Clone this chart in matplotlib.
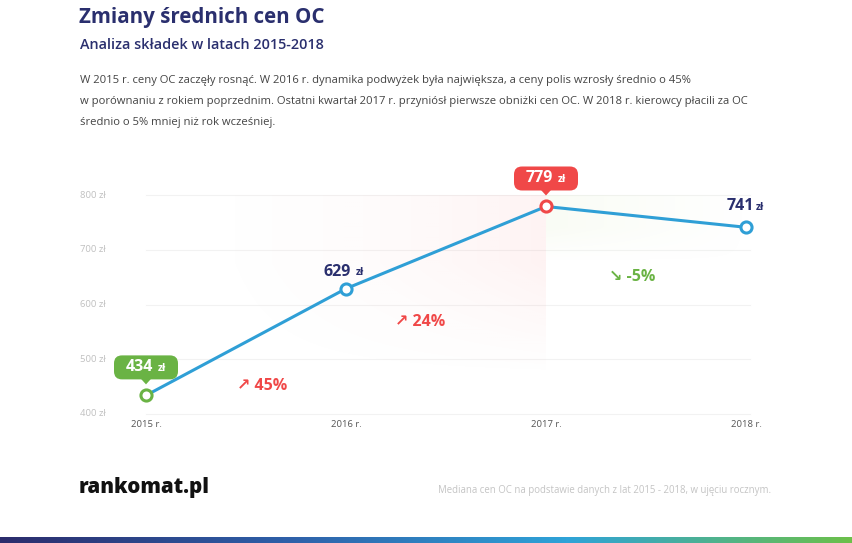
import numpy as np
import matplotlib.pyplot as plt
from matplotlib.colors import LinearSegmentedColormap
from matplotlib.patches import FancyBboxPatch, Polygon
from matplotlib.transforms import ScaledTranslation

# Data
years = ['2015 r.', '2016 r.', '2017 r.', '2018 r.']
prices = [434, 629, 779, 741]
changes = ['45%', '24%', '-5%']
yticks = [400, 500, 600, 700, 800]

NAVY = '#2a2f6e'
BLUE = '#2f9fd6'
RED = '#f04848'
GREEN = '#6ab344'
FONT = ['Open Sans', 'DejaVu Sans']

W, H = 852, 543
fig = plt.figure(figsize=(W / 100, H / 100), dpi=100)
fig.patch.set_facecolor('white')

def px(x, y):
    return x / W, 1 - y / H

# chart axes: x 146..746 px, y 195..414 px
ax = fig.add_axes([146 / W, 1 - 414 / H, 600 / W, 219 / H])
for s in ax.spines.values():
    s.set_visible(False)
ax.set_xticks([])
ax.set_yticks([])

x = np.arange(len(prices))

# grid lines
for v in yticks:
    ax.plot([0, 3.02], [v, v], color='#f2f2f2', lw=0.8, zorder=0, clip_on=False)
    fig.text(80 / W, 1 - (414 - (v - 400) * 219 / 400) / H, f'{v} zł', fontsize=6.8,
             color='#c0c0c0', va='center', ha='left', family=FONT)

for i, lab in enumerate(years):
    ax.text(x[i], 380, lab, fontsize=6.8, color='#555555', ha='center', va='center',
            family=FONT, clip_on=False)

# shaded areas
gx = np.linspace(0, 1, 200)
gy = np.linspace(0, 1, 100)
GX, GY = np.meshgrid(gx, gy)
pink = np.zeros((100, 200, 4))
pink[..., :3] = (0.98, 0.4, 0.4)
pink[..., 3] = 0.08 * GX ** 2 * np.clip(GY * 1.6, 0, 1)
ax.imshow(pink, extent=[0, 2, 470, 800], origin='lower', aspect='auto', zorder=1,
          interpolation='bilinear')
green = np.zeros((100, 200, 4))
green[..., :3] = (0.9, 0.95, 0.82)
green[..., 3] = 0.22 * (1 - GX) * np.clip(GY * 2, 0, 1)
ax.imshow(green, extent=[2, 3, 680, 800], origin='lower', aspect='auto', zorder=1,
          interpolation='bilinear')
ax.set_xlim(0, 3)
ax.set_ylim(400, 800)

# line
ax.plot(x, prices, color=BLUE, lw=2.2, zorder=3, clip_on=False, solid_capstyle='round')
mk_colors = [GREEN, BLUE, RED, BLUE]
for i in range(len(prices)):
    ax.plot(x[i], prices[i], 'o', ms=8, mfc='white', mec=mk_colors[i], mew=2.2,
            zorder=4, clip_on=False)

def at_point(i):
    # transform in pixels/100 (inches) relative to the data point
    return fig.dpi_scale_trans + ScaledTranslation(x[i], prices[i], ax.transData)

def num_label(i, dxn, dxz, dy, color):
    tr = at_point(i)
    ax.text(dxn / 100, dy / 100, f'{prices[i]}', transform=tr, ha='center', va='center',
            fontsize=11.5, fontweight='bold', color=color, family=FONT, zorder=7)
    ax.text(dxz / 100, (dy - 1) / 100, 'zł', transform=tr, ha='center', va='center',
            fontsize=7.5, fontweight='bold', color=color, family=FONT, zorder=7)

def bubble(i, color):
    tr = at_point(i)
    box = FancyBboxPatch((-0.32, 0.16), 0.64, 0.24, boxstyle='round,pad=0,rounding_size=0.08',
                         fc=color, ec='none', transform=tr, zorder=6, clip_on=False)
    ax.add_patch(box)
    tri = Polygon([(-0.05, 0.165), (0.05, 0.165), (0, 0.11)], closed=True, fc=color,
                  ec='none', transform=tr, zorder=6, clip_on=False)
    ax.add_patch(tri)
    num_label(i, -7, 16, 28, 'white')

bubble(0, GREEN)
bubble(2, RED)
num_label(1, -9, 14, 17, NAVY)
num_label(3, -6, 14, 21, NAVY)

# change labels
ax.text(0.58, 451, '↗ ' + changes[0], color=RED, fontsize=11.5, fontweight='bold',
        family=FONT, ha='center', va='center', zorder=6)
ax.text(1.37, 568, '↗ ' + changes[1], color=RED, fontsize=11.5, fontweight='bold',
        family=FONT, ha='center', va='center', zorder=6)
ax.text(2.43, 650, '↘ ' + changes[2], color=GREEN, fontsize=11.5, fontweight='bold',
        family=FONT, ha='center', va='center', zorder=6)

# header texts
fig.text(*px(79, 18), 'Zmiany średnich cen OC', fontsize=14.8, fontweight='bold',
         color=NAVY, va='center', family=FONT)
fig.text(*px(80, 45), 'Analiza składek w latach 2015-2018', fontsize=10.4,
         color=NAVY, va='center', family=FONT, fontweight='semibold')
para = ['W 2015 r. ceny OC zaczęły rosnąć. W 2016 r. dynamika podwyżek była największa, a ceny polis wzrosły średnio o 45%',
        'w porównaniu z rokiem poprzednim. Ostatni kwartał 2017 r. przyniósł pierwsze obniżki cen OC. W 2018 r. kierowcy płacili za OC',
        'średnio o 5% mniej niż rok wcześniej.']
for k, line in enumerate(para):
    fig.text(*px(80, 81 + k * 20.5), line, fontsize=8.1, color='#444444', va='center',
             family=FONT)

# footer
fig.text(*px(79, 488), 'rankomat.pl', fontsize=14.8, fontweight='heavy', color='#111111',
         va='center', family=FONT)
fig.text(*px(771, 490), 'Mediana cen OC na podstawie danych z lat 2015 - 2018, w ujęciu rocznym.',
         fontsize=6.9, color='#c4c4c4', va='center', ha='right', family=FONT)

bar = fig.add_axes([0, 0, 1, 6 / H])
cmap = LinearSegmentedColormap.from_list('b', ['#2b2c6c', '#2e5fa8', '#2fa3d8', '#6cc04a'])
bar.imshow(np.linspace(0, 1, 256).reshape(1, -1), cmap=cmap, aspect='auto')
bar.axis('off')

fig.savefig('out.png', dpi=100, facecolor='white')
